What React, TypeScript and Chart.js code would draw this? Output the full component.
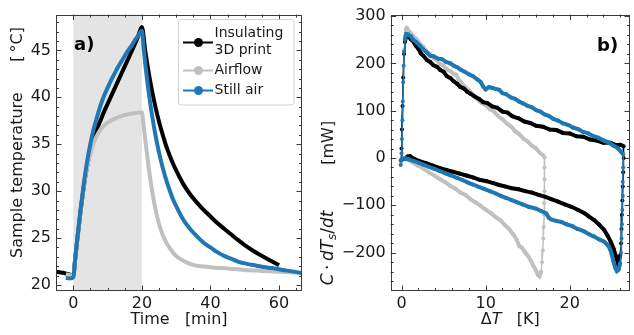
import React, { useEffect, useRef } from 'react';
import { Chart, registerables } from 'chart.js';

Chart.register(...registerables);

// ---------------- Panel a: sample temperature vs time ----------------
const timeTicks = [0, 20, 40, 60];
const tempTicks = [20, 25, 30, 35, 40, 45];
const heatingWindow = [0, 20];

const insulatingA: [number, number][] = [
  [-5.0, 21.4], [-4, 21.35], [-3, 21.3], [-2, 21.2], [-1, 21.1], [-0.2, 21.0], [0, 21.0],
  [0.5, 22.6], [1, 24.3], [2, 27.5], [3, 30.3], [4, 32.6], [5, 34.3], [6, 35.6], [7, 36.7],
  [8, 37.6], [9, 38.5], [10, 39.3], [11, 40.1], [12, 40.9], [13, 41.7], [14, 42.5], [15, 43.3],
  [16, 44.1], [17, 44.9], [18, 45.7], [19, 46.6], [20, 47.5], [21, 44.9], [22, 42.6], [23, 40.6],
  [24, 38.9], [25, 37.4], [26, 36.1], [27, 34.9], [28, 33.9], [29, 33.0], [30, 32.2], [32, 30.8],
  [34, 29.7], [36, 28.8], [38, 28.0], [40, 27.3], [42, 26.6], [44, 26.0], [46, 25.4], [48, 24.8],
  [50, 24.25], [52, 23.75], [54, 23.3], [56, 22.9], [58, 22.5], [60, 22.1],
];

const airflowA: [number, number][] = [
  [-2.2, 21.15], [-1, 21.05], [0, 21.0], [0.5, 22.6], [1, 24.3], [2, 27.5], [3, 30.3], [4, 32.5],
  [5, 34.1], [6, 35.2], [7, 36.0], [8, 36.6], [9, 37.0], [10, 37.3], [12, 37.7], [14, 38.0],
  [16, 38.2], [18, 38.3], [20, 38.4], [20.5, 37.0], [21, 35.4], [22, 32.5], [23, 30.0], [24, 28.0],
  [25, 26.5], [26, 25.4], [27, 24.6], [28, 24.0], [29, 23.5], [30, 23.1], [32, 22.6], [34, 22.25],
  [36, 22.05], [40, 21.9], [45, 21.75], [50, 21.6], [55, 21.5], [60, 21.4], [66.7, 21.3],
];

const stillAirA: [number, number][] = [
  [-2.2, 20.75], [-1, 20.7], [0, 20.8], [0.5, 22.6], [1, 24.4], [2, 27.7], [3, 30.6], [4, 33.1],
  [5, 35.1], [6, 36.7], [7, 38.0], [8, 39.2], [9, 40.2], [10, 41.0], [11, 41.8], [12, 42.5],
  [13, 43.2], [14, 43.8], [15, 44.4], [16, 45.0], [17, 45.5], [18, 46.1], [19, 46.6], [20, 47.1],
  [20.5, 45.3], [21, 43.5], [22, 40.5], [23, 38.0], [24, 35.9], [25, 34.1], [26, 32.6], [27, 31.3],
  [28, 30.2], [29, 29.2], [30, 28.4], [32, 27.0], [34, 26.0], [36, 25.2], [38, 24.5], [40, 24.0],
  [42, 23.5], [44, 23.1], [46, 22.8], [48, 22.5], [50, 22.3], [52, 22.15], [55, 21.95],
  [58, 21.8], [61, 21.6], [64, 21.45], [66.7, 21.25],
];

// ---------------- Panel b: C·dTs/dt vs ΔT ----------------
const deltaTTicks = [0, 10, 20];
const powerTicks = [-200, -100, 0, 100, 200, 300];

const insulatingB: [number, number][] = [
  [-0.05, -5], [0.0, 20], [0.05, 60], [0.12, 110], [0.2, 170], [0.3, 220], [0.4, 245], [0.55, 257],
  [0.8, 258], [1.1, 251], [1.4, 246], [1.7, 237], [2.0, 231], [2.3, 221], [2.6, 216], [3.0, 207],
  [3.4, 203], [3.8, 196], [4.2, 193], [4.6, 186], [5.0, 182], [5.4, 173], [5.8, 169], [6.2, 162],
  [6.6, 157], [7.0, 150], [7.4, 147], [7.8, 140], [8.2, 136], [8.7, 130], [9.2, 125], [9.7, 118],
  [10.2, 116], [10.8, 109], [11.4, 106], [12.0, 98], [12.6, 96], [13.2, 88], [13.9, 84], [14.6, 77],
  [15.3, 74], [16.0, 68], [16.8, 66], [17.6, 60], [18.4, 59], [19.2, 53], [20.0, 52], [20.8, 46],
  [21.6, 45], [22.4, 39], [23.2, 37], [24.0, 32], [24.8, 32], [25.5, 27], [26.0, 28], [26.4, 25],
  [26.4, 0], [26.35, -30], [26.3, -60], [26.25, -90], [26.2, -120], [26.15, -150], [26.1, -180],
  [26.0, -205], [25.85, -218], [25.7, -222], [25.5, -208], [25.2, -191], [24.9, -178], [24.5, -164],
  [24.1, -152], [23.5, -141], [22.9, -131], [22.3, -124], [21.8, -117], [21.0, -110], [20.2, -103],
  [19.4, -98], [18.6, -92], [17.8, -87], [17.1, -82], [16.3, -78], [15.5, -73], [14.7, -70],
  [13.9, -66], [13.1, -64], [12.3, -60], [11.6, -57], [10.9, -53], [10.1, -49], [9.3, -46],
  [8.5, -41], [7.7, -37], [6.9, -33], [6.1, -29], [5.3, -25], [4.5, -21], [3.7, -16], [2.9, -11],
  [2.2, -7], [1.5, -2], [1.0, 4], [0.7, 3], [0.4, -2],
];

const airflowB: [number, number][] = [
  [-0.05, -10], [0.0, 20], [0.05, 60], [0.12, 110], [0.2, 170], [0.3, 230], [0.4, 258], [0.5, 272],
  [0.6, 276], [0.8, 270], [1.1, 264], [1.4, 257], [1.8, 251], [2.2, 241], [2.6, 235], [3.0, 225],
  [3.4, 220], [3.8, 211], [4.2, 207], [4.6, 198], [5.0, 195], [5.4, 187], [5.8, 184], [6.2, 178],
  [6.5, 176], [6.8, 165], [7.1, 160], [7.5, 151], [8.0, 144], [8.5, 132], [9.0, 125], [9.5, 116],
  [10.0, 112], [10.5, 103], [11.0, 98], [11.5, 88], [12.0, 82], [12.5, 73], [13.0, 67], [13.5, 57],
  [14.0, 50], [14.5, 41], [15.0, 35], [15.5, 26], [16.0, 20], [16.5, 10], [16.9, 5], [17.0, 1],
  [17.0, -20], [17.0, -45], [17.0, -70], [16.95, -95], [16.95, -120], [16.9, -145], [16.85, -170],
  [16.8, -195], [16.7, -220], [16.6, -240], [16.4, -250], [16.2, -247], [16.0, -238], [15.7, -229],
  [15.4, -218], [15.0, -206], [14.6, -197], [14.3, -189], [14.0, -186], [13.7, -173], [13.3, -162],
  [12.8, -150], [12.3, -142], [11.8, -132], [11.2, -125], [10.6, -116], [10.0, -109], [9.4, -101],
  [8.8, -94], [8.2, -87], [7.6, -78], [7.0, -73], [6.4, -65], [5.8, -59], [5.2, -51], [4.6, -45],
  [4.0, -38], [3.3, -31], [2.6, -22], [1.9, -16], [1.3, -9], [0.8, -4], [0.4, 0],
];

const stillAirB: [number, number][] = [
  [-0.1, -15], [-0.1, -5], [0.0, 10], [0.05, 40], [0.1, 80], [0.15, 120], [0.2, 160], [0.25, 195],
  [0.3, 225], [0.4, 250], [0.55, 262], [0.8, 261], [1.1, 257], [1.4, 250], [1.8, 244], [2.2, 237],
  [2.6, 229], [3.0, 223], [3.4, 216], [3.8, 215], [4.3, 210], [4.8, 209], [5.3, 203], [5.8, 200],
  [6.2, 195], [6.6, 192], [7.0, 187], [7.5, 182], [8.0, 177], [8.5, 173], [9.0, 166], [9.4, 161],
  [9.7, 151], [10.0, 145], [10.4, 150], [10.8, 148], [11.2, 146], [11.6, 144], [12.0, 137],
  [12.4, 135], [13.0, 128], [13.5, 125], [14.0, 119], [14.5, 115], [15.0, 110], [15.5, 107],
  [16.0, 101], [16.5, 98], [17.0, 92], [17.5, 89], [18.0, 83], [18.6, 79], [19.2, 73], [19.8, 70],
  [20.4, 64], [21.0, 61], [21.6, 55], [22.2, 52], [22.8, 46], [23.4, 43], [24.0, 37], [24.6, 33],
  [25.2, 26], [25.7, 21], [26.1, 13], [26.35, 8],
  [26.35, -20], [26.3, -50], [26.3, -80], [26.25, -110], [26.2, -140], [26.15, -170], [26.1, -200],
  [26.0, -222], [25.8, -236], [25.6, -239], [25.4, -232], [25.2, -219], [25.0, -205], [24.8, -193],
  [24.5, -184], [24.1, -177], [23.5, -172], [22.9, -166], [22.3, -161], [21.6, -154], [20.9, -150],
  [20.3, -144], [19.6, -140], [19.0, -135], [18.4, -133], [17.8, -130], [17.5, -126], [17.2, -117],
  [16.6, -112], [16.0, -107], [15.1, -103], [14.4, -98], [13.7, -93], [13.1, -89], [12.4, -84],
  [11.8, -80], [11.2, -75], [10.5, -70], [9.8, -65], [9.2, -61], [8.5, -56], [7.9, -52], [7.3, -47],
  [6.6, -42], [5.9, -37], [5.3, -33], [4.6, -28], [3.9, -23], [3.3, -19], [2.6, -14], [2.0, -10],
  [1.4, -6], [0.9, -3], [0.4, 0], [0.2, -3],
];

// ---------------- styling ----------------
const FONT = '"DejaVu Sans", "Liberation Sans", sans-serif';
const TEXT = '#1a1a1a';
const AXIS = '#3a3a3a';
const BLACK = '#000000';
const GREY = '#c0c0c0';
const BLUE = '#1f77b4';
const SHADE = '#e4e4e4';

const toXY = (arr: [number, number][]) => arr.map(([x, y]) => ({ x, y }));
const fmt = (v: number) => (v < 0 ? '\u2212' + Math.abs(v) : String(v));

type Part = { t: string; font: string; dy?: number };

function drawParts(ctx: CanvasRenderingContext2D, parts: Part[], cx: number, cy: number, rot: number) {
  ctx.save();
  ctx.translate(cx, cy);
  ctx.rotate(rot);
  ctx.fillStyle = TEXT;
  ctx.textBaseline = 'middle';
  ctx.textAlign = 'left';
  let total = 0;
  for (const p of parts) {
    ctx.font = p.font;
    total += ctx.measureText(p.t).width;
  }
  let x = -total / 2;
  for (const p of parts) {
    ctx.font = p.font;
    ctx.fillText(p.t, x, p.dy || 0);
    x += ctx.measureText(p.t).width;
  }
  ctx.restore();
}

function drawFrame(chart: any, xMinor: number, yMinor: number) {
  const { ctx, chartArea: a, scales } = chart;
  const xs = scales.x;
  const ys = scales.y;
  ctx.save();
  ctx.strokeStyle = AXIS;
  ctx.lineWidth = 1;
  const seg = (x1: number, y1: number, x2: number, y2: number) => {
    ctx.beginPath();
    ctx.moveTo(x1, y1);
    ctx.lineTo(x2, y2);
    ctx.stroke();
  };
  const majorX = xs.ticks.map((t: any) => t.value);
  const majorY = ys.ticks.map((t: any) => t.value);
  const tickX = (v: number, len: number) => {
    const p = Math.round(xs.getPixelForValue(v)) + 0.5;
    if (p < a.left + 1 || p > a.right - 1) return;
    seg(p, a.bottom, p, a.bottom - len);
    seg(p, a.top, p, a.top + len);
  };
  const tickY = (v: number, len: number) => {
    const p = Math.round(ys.getPixelForValue(v)) + 0.5;
    if (p < a.top + 1 || p > a.bottom - 1) return;
    seg(a.left, p, a.left + len, p);
    seg(a.right, p, a.right - len, p);
  };
  const start = (min: number, step: number) => Math.ceil(min / step) * step;
  for (let v = start(xs.min, xMinor); v <= xs.max; v += xMinor) {
    if (!majorX.some((m: number) => Math.abs(m - v) < 1e-6)) tickX(v, 3);
  }
  for (let v = start(ys.min, yMinor); v <= ys.max; v += yMinor) {
    if (!majorY.some((m: number) => Math.abs(m - v) < 1e-6)) tickY(v, 3);
  }
  majorX.forEach((v: number) => tickX(v, 5.5));
  majorY.forEach((v: number) => tickY(v, 5.5));
  ctx.strokeRect(Math.round(a.left) + 0.5, Math.round(a.top) + 0.5, Math.round(a.right - a.left) - 1, Math.round(a.bottom - a.top) - 1);
  ctx.restore();
}

const tickFont = { family: FONT, size: 16 };

function baseScales(
  xr: [number, number], yr: [number, number], xt: number[], yt: number[], yWidth: number,
) {
  return {
    x: {
      type: 'linear',
      min: xr[0],
      max: xr[1],
      afterBuildTicks: (s: any) => { s.ticks = xt.map((v) => ({ value: v })); },
      afterFit: (s: any) => { s.height = 44; },
      ticks: { font: tickFont, color: TEXT, padding: 3, maxRotation: 0, callback: (v: any) => fmt(Number(v)) },
      grid: { display: false, drawTicks: false, tickLength: 0 },
      border: { display: false },
    },
    y: {
      type: 'linear',
      min: yr[0],
      max: yr[1],
      afterBuildTicks: (s: any) => { s.ticks = yt.map((v) => ({ value: v })); },
      afterFit: (s: any) => { s.width = yWidth; },
      ticks: { font: tickFont, color: TEXT, padding: 5, callback: (v: any) => fmt(Number(v)) },
      grid: { display: false, drawTicks: false, tickLength: 0 },
      border: { display: false },
    },
  };
}

function PanelA() {
  const ref = useRef<HTMLCanvasElement>(null);
  useEffect(() => {
    if (!ref.current) return;
    const line = (label: string, data: [number, number][], color: string, order: number) => ({
      label,
      data: toXY(data),
      borderColor: color,
      backgroundColor: color,
      borderWidth: 4,
      pointRadius: 0,
      cubicInterpolationMode: 'monotone',
      order,
    });
    const shade = {
      id: 'shade',
      beforeDatasetsDraw(chart: any) {
        const { ctx, chartArea: a, scales } = chart;
        const x0 = scales.x.getPixelForValue(heatingWindow[0]);
        const x1 = scales.x.getPixelForValue(heatingWindow[1]);
        ctx.save();
        ctx.fillStyle = SHADE;
        ctx.fillRect(x0, a.top, x1 - x0, a.bottom - a.top);
        ctx.restore();
      },
    };
    const deco = {
      id: 'decoA',
      afterDraw(chart: any) {
        const { ctx, chartArea: a } = chart;
        drawFrame(chart, 5, 1);
        ctx.save();
        ctx.fillStyle = '#000';
        ctx.font = `bold 18px ${FONT}`;
        ctx.textBaseline = 'alphabetic';
        ctx.fillText('a)', 74, 49.5);
        ctx.restore();
        const f = `16px ${FONT}`;
        drawParts(ctx, [{ t: 'Time   [min]', font: f }], (a.left + a.right) / 2, 320, 0);
        drawParts(ctx, [
          { t: 'Sample temperature', font: f },
          { t: '      ', font: f },
          { t: '[\u2009°C]', font: f },
        ], 17.5, 142.5, -Math.PI / 2);
        ctx.save();
        const bx = 178.5, by = 19.5, bw = 115.5, bh = 85.5, r = 3;
        ctx.beginPath();
        ctx.moveTo(bx + r, by);
        ctx.arcTo(bx + bw, by, bx + bw, by + bh, r);
        ctx.arcTo(bx + bw, by + bh, bx, by + bh, r);
        ctx.arcTo(bx, by + bh, bx, by, r);
        ctx.arcTo(bx, by, bx + bw, by, r);
        ctx.closePath();
        ctx.fillStyle = 'rgba(255,255,255,0.8)';
        ctx.fill();
        ctx.strokeStyle = '#d0d0d0';
        ctx.lineWidth = 1;
        ctx.stroke();
        const entries: { lines: string[]; color: string; y: number }[] = [
          { lines: ['Insulating', '3D print'], color: BLACK, y: 42.5 },
          { lines: ['Airflow'], color: GREY, y: 70.5 },
          { lines: ['Still air'], color: BLUE, y: 90.5 },
        ];
        ctx.font = `14px ${FONT}`;
        ctx.textBaseline = 'middle';
        for (const e of entries) {
          ctx.strokeStyle = e.color;
          ctx.lineWidth = 2;
          ctx.beginPath();
          ctx.moveTo(183, e.y);
          ctx.lineTo(213, e.y);
          ctx.stroke();
          ctx.fillStyle = e.color;
          ctx.beginPath();
          ctx.arc(198.5, e.y, 4.5, 0, Math.PI * 2);
          ctx.fill();
          ctx.fillStyle = TEXT;
          if (e.lines.length === 2) {
            ctx.fillText(e.lines[0], 214.5, e.y - 9);
            ctx.fillText(e.lines[1], 214.5, e.y + 7.5);
          } else {
            ctx.fillText(e.lines[0], 214.5, e.y);
          }
        }
        ctx.restore();
      },
    };
    const chart = new Chart(ref.current, {
      type: 'line',
      data: {
        datasets: [
          line('Still air', stillAirA, BLUE, 0),
          line('Airflow', airflowA, GREY, 1),
          line('Insulating 3D print', insulatingA, BLACK, 2),
        ] as any,
      },
      options: {
        animation: false,
        responsive: false,
        maintainAspectRatio: false,
        devicePixelRatio: 1,
        layout: { padding: { left: 0, right: 18, top: 13, bottom: 0 } },
        plugins: { legend: { display: false }, tooltip: { enabled: false } },
        scales: baseScales([-5.05, 66.7], [19.36, 48.81], timeTicks, tempTicks, 56) as any,
      },
      plugins: [shade, deco],
    });
    return () => chart.destroy();
  }, []);
  return <canvas ref={ref} width={320} height={335} style={{ position: 'absolute', left: 0, top: 0, width: 320, height: 335 }} />;
}

function PanelB() {
  const ref = useRef<HTMLCanvasElement>(null);
  useEffect(() => {
    if (!ref.current) return;
    const loop = (label: string, data: [number, number][], color: string, order: number, w: number) => ({
      label,
      data: toXY(data),
      showLine: true,
      borderColor: color,
      backgroundColor: color,
      pointBackgroundColor: color,
      pointBorderWidth: 0,
      pointRadius: 2,
      borderWidth: w,
      segment: {
        borderWidth: (c: any) => (Math.abs(c.p1.parsed.x - c.p0.parsed.x) < 0.12 ? 1.5 : w),
      },
      order,
    });
    const deco = {
      id: 'decoB',
      afterDraw(chart: any) {
        const { ctx, chartArea: a } = chart;
        drawFrame(chart, 2, 20);
        ctx.save();
        ctx.fillStyle = '#000';
        ctx.font = `bold 18px ${FONT}`;
        ctx.textBaseline = 'alphabetic';
        ctx.fillText('b)', 277, 50.5);
        ctx.restore();
        const f = `16px ${FONT}`;
        const fi = `italic 16px ${FONT}`;
        const mi = `italic 17px ${FONT}`;
        const mf = `17px ${FONT}`;
        drawParts(ctx, [
          { t: '\u0394', font: f },
          { t: 'T', font: fi },
          { t: '   [K]', font: f },
        ], (a.left + a.right) / 2, 320, 0);
        drawParts(ctx, [
          { t: 'C', font: mi },
          { t: '\u2009\u00b7\u2009', font: mf },
          { t: 'dT', font: mi },
          { t: 's', font: `italic 12px ${FONT}`, dy: 4 },
          { t: '/', font: mf },
          { t: 'dt', font: mi },
          { t: '         ', font: f },
          { t: '[mW]', font: f },
        ], 9, 203, -Math.PI / 2);
      },
    };
    const chart = new Chart(ref.current, {
      type: 'scatter',
      data: {
        datasets: [
          loop('Still air', stillAirB, BLUE, 0, 4),
          loop('Insulating 3D print', insulatingB, BLACK, 1, 4),
          loop('Airflow', airflowB, GREY, 2, 4),
        ] as any,
      },
      options: {
        animation: false,
        responsive: false,
        maintainAspectRatio: false,
        devicePixelRatio: 1,
        layout: { padding: { left: 0, right: 1.5, top: 12.7, bottom: 0 } },
        plugins: { legend: { display: false }, tooltip: { enabled: false } },
        scales: baseScales([-1.29, 27.16], [-281, 303], deltaTTicks, powerTicks, 70.67) as any,
      },
      plugins: [deco],
    });
    return () => chart.destroy();
  }, []);
  return <canvas ref={ref} width={314} height={335} style={{ position: 'absolute', left: 320, top: 0, width: 314, height: 335 }} />;
}

export default function App() {
  return (
    <div style={{ position: 'fixed', left: 0, top: 0, width: 634, height: 335, background: '#fff', overflow: 'hidden' }}>
      <PanelA />
      <PanelB />
    </div>
  );
}
